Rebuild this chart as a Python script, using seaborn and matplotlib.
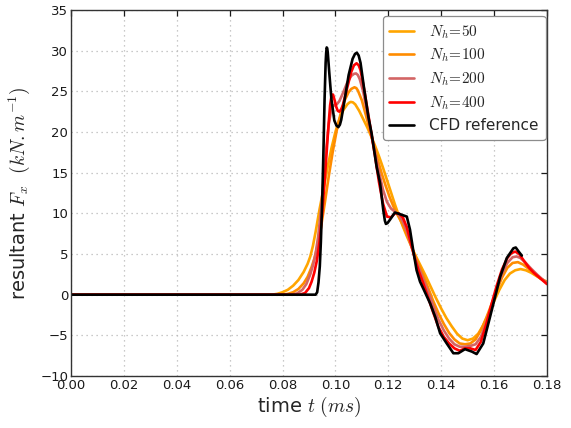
import matplotlib
matplotlib.use("Agg")
import matplotlib.pyplot as plt
import seaborn as sns
import pandas as pd

# ---- resultant force histories (time in ms, force in kN/m) ----
t_50 = [0, 0.076, 0.078, 0.080, 0.082, 0.084, 0.086, 0.088, 0.0895, 0.0905, 0.0915,
        0.0925, 0.094, 0.0955, 0.097, 0.0985, 0.100, 0.1015, 0.103, 0.1045, 0.1052,
        0.1058, 0.1066, 0.1075, 0.109, 0.1105, 0.112, 0.1135, 0.115, 0.1165, 0.118,
        0.1195, 0.121, 0.1225, 0.124, 0.1255, 0.127, 0.1285, 0.130, 0.132, 0.134,
        0.136, 0.138, 0.140, 0.142, 0.144, 0.146, 0.148, 0.150, 0.152, 0.154, 0.156,
        0.158, 0.160, 0.162, 0.164, 0.166, 0.168, 0.170, 0.172, 0.174, 0.176, 0.178,
        0.180]
f_50 = [0, 0, 0.1, 0.3, 0.6, 1.1, 1.8, 2.8, 3.8, 4.7, 6.0,
        7.7, 10.5, 13.0, 15.6, 18.0, 20.0, 21.6, 22.7, 23.4, 23.6,
        23.7, 23.65, 23.4, 22.6, 21.6, 20.6, 19.5, 18.3, 17.0, 15.6,
        14.1, 12.6, 11.1, 9.7, 8.4, 7.2, 6.1, 5.0, 3.7, 2.4,
        1.0, -0.4, -1.7, -2.9, -3.9, -4.8, -5.4, -5.6, -5.4, -4.8, -3.7,
        -2.3, -0.8, 0.6, 1.8, 2.6, 3.0, 3.15, 3.0, 2.7, 2.3, 1.9,
        1.6]

t_100 = [0, 0.080, 0.082, 0.084, 0.086, 0.088, 0.0895, 0.091, 0.092, 0.093, 0.0945,
         0.096, 0.0975, 0.099, 0.1005, 0.102, 0.1035, 0.105, 0.106, 0.1072, 0.1079,
         0.1085, 0.110, 0.1115, 0.113, 0.1145, 0.116, 0.1175, 0.119, 0.1205, 0.122,
         0.1235, 0.125, 0.1265, 0.128, 0.1295, 0.131, 0.133, 0.135, 0.137, 0.139,
         0.141, 0.143, 0.145, 0.147, 0.149, 0.151, 0.153, 0.155, 0.157, 0.159,
         0.161, 0.163, 0.165, 0.167, 0.169, 0.171, 0.173, 0.175, 0.1775, 0.180]
f_100 = [0, 0, 0.1, 0.3, 0.7, 1.4, 2.2, 3.4, 4.4, 5.7, 8.2,
         11.3, 14.6, 17.6, 20.2, 22.3, 23.9, 24.9, 25.3, 25.5, 25.4,
         25.1, 23.9, 22.1, 20.2, 18.4, 16.6, 14.9, 13.4, 12.0, 10.8,
         9.8, 8.9, 7.8, 6.6, 5.3, 4.1, 2.6, 0.9, -0.8, -2.3,
         -3.6, -4.7, -5.5, -6.0, -6.1, -6.0, -5.5, -4.4, -2.9, -1.2,
         0.5, 2.1, 3.3, 3.9, 4.0, 3.7, 3.2, 2.6, 2.0, 1.5]

t_200 = [0, 0.0835, 0.0855, 0.0875, 0.089, 0.0905, 0.0915, 0.0925, 0.0935, 0.0945,
         0.0955, 0.0965, 0.0975, 0.0985, 0.0995, 0.1005, 0.1015, 0.103, 0.1045, 0.106,
         0.107, 0.1078, 0.1085, 0.1092, 0.1105, 0.112, 0.1135, 0.115, 0.1165, 0.118,
         0.1195, 0.121, 0.1225, 0.124, 0.1255, 0.127, 0.1285, 0.130, 0.1315, 0.133,
         0.135, 0.137, 0.139, 0.141, 0.143, 0.145, 0.147, 0.149, 0.151, 0.153,
         0.155, 0.157, 0.159, 0.161, 0.163, 0.165, 0.167, 0.1685, 0.170, 0.172,
         0.174, 0.1765, 0.180]
f_200 = [0, 0, 0.15, 0.6, 1.3, 2.5, 3.6, 5.0, 7.2, 10.3,
         14.0, 17.8, 21.0, 22.9, 23.3, 23.4, 23.8, 24.9, 26.1, 26.9,
         27.15, 27.2, 27.0, 26.5, 25.0, 22.4, 19.9, 17.4, 15.0, 12.9,
         11.4, 10.6, 10.2, 9.8, 9.0, 7.8, 6.2, 4.6, 3.3, 2.1,
         0.4, -1.4, -3.1, -4.4, -5.4, -6.1, -6.4, -6.4, -6.3, -6.1,
         -5.2, -3.5, -1.4, 0.7, 2.6, 3.9, 4.6, 4.7, 4.5, 3.9,
         3.2, 2.4, 1.4]

t_400 = [0, 0.0865, 0.0885, 0.090, 0.091, 0.092, 0.093, 0.094, 0.095, 0.096, 0.097,
         0.0975, 0.098, 0.0986, 0.0991, 0.0997, 0.1003, 0.1009, 0.1015, 0.1022, 0.1028,
         0.1045, 0.106, 0.107, 0.108, 0.1088, 0.1095, 0.111, 0.1125, 0.1135, 0.115,
         0.1165, 0.118, 0.1195, 0.121, 0.1225, 0.124, 0.1255, 0.127, 0.1285, 0.130,
         0.1315, 0.133, 0.135, 0.137, 0.139, 0.141, 0.143, 0.145, 0.147, 0.149,
         0.151, 0.153, 0.155, 0.157, 0.159, 0.161, 0.163, 0.165, 0.1665, 0.168,
         0.1695, 0.171, 0.173, 0.175, 0.1775, 0.180]
f_400 = [0, 0, 0.2, 0.8, 1.6, 2.7, 4.2, 6.5, 10.0, 14.3, 19.0,
         21.3, 23.3, 24.6, 24.6, 23.9, 23.1, 22.6, 22.5, 22.8, 23.3,
         25.5, 27.4, 28.2, 28.45, 28.2, 27.6, 25.0, 22.0, 20.0, 17.0,
         13.8, 11.2, 9.6, 9.5, 10.0, 10.0, 9.5, 8.3, 6.4, 4.5,
         2.9, 1.6, -0.3, -2.2, -4.0, -5.2, -6.0, -6.6, -6.9, -6.6,
         -6.6, -6.8, -5.8, -3.7, -1.2, 1.1, 3.1, 4.5, 5.1, 5.3,
         5.0, 4.3, 3.4, 2.7, 2.0, 1.3]

t_cfd = [0, 0.0925, 0.0931, 0.0936, 0.0941, 0.0945, 0.0950, 0.0955, 0.0959, 0.0963,
         0.0965, 0.0967, 0.0969, 0.0971, 0.0977, 0.0985, 0.0996, 0.1004, 0.1011, 0.1017,
         0.1022, 0.1035, 0.105, 0.1065, 0.1074, 0.1081, 0.1088, 0.1095, 0.111, 0.1125,
         0.1137, 0.1156, 0.1169, 0.1181, 0.1187, 0.1191, 0.1197, 0.1206, 0.1225, 0.1244,
         0.127, 0.1282, 0.1295, 0.1307, 0.132, 0.1333, 0.1358, 0.1377, 0.1396, 0.1421,
         0.1446, 0.1465, 0.149, 0.1516, 0.1534, 0.1559, 0.1585, 0.1604, 0.1623, 0.1648,
         0.1673, 0.1682, 0.1693, 0.1705]
f_cfd = [0, 0, 0.3, 1.5, 3.5, 6.5, 11.5, 18.0, 24.0, 28.5,
         29.7, 30.4, 30.3, 29.8, 27.2, 24.0, 21.4, 20.8, 20.6, 20.9,
         21.5, 24.0, 27.0, 29.0, 29.6, 29.75, 29.4, 28.5, 25.0, 21.8,
         19.8, 15.7, 13.7, 10.4, 9.1, 8.7, 8.8, 9.2, 10.1, 9.9,
         9.6, 8.0, 5.3, 3.0, 1.6, 0.7, -1.06, -2.7, -4.75, -6.0,
         -7.2, -7.2, -6.7, -7.0, -7.3, -6.0, -2.7, -0.25, 2.2, 4.5,
         5.7, 5.8, 5.3, 4.8]

labels = [r"$N_h\!=\!50$", r"$N_h\!=\!100$", r"$N_h\!=\!200$", r"$N_h\!=\!400$",
          "CFD reference"]
colors = ["#ffa500", "#ff8c00", "#d36565", "#ff0000", "#000000"]

x_ticks = [0.00, 0.02, 0.04, 0.06, 0.08, 0.10, 0.12, 0.14, 0.16, 0.18]
y_ticks = [-10, -5, 0, 5, 10, 15, 20, 25, 30, 35]

series = [(t_50, f_50), (t_100, f_100), (t_200, f_200), (t_400, f_400), (t_cfd, f_cfd)]
frames = []
for lab, (tt, ff) in zip(labels, series):
    frames.append(pd.DataFrame({"t": tt, "F": ff, "case": lab}))
df = pd.concat(frames, ignore_index=True)

sns.set_style("white")
plt.rcParams["font.family"] = ["DejaVu Sans"]
plt.rcParams["mathtext.fontset"] = "cm"
plt.rcParams["axes.unicode_minus"] = True
plt.rcParams["lines.solid_joinstyle"] = "round"
plt.rcParams["lines.solid_capstyle"] = "round"

fig = plt.figure(figsize=(5.71, 4.28), dpi=100)
ax = fig.add_axes([0.1243, 0.1215, 0.8336, 0.8551])

sns.lineplot(data=df, x="t", y="F", hue="case", hue_order=labels,
             palette=dict(zip(labels, colors)), estimator=None, sort=False,
             linewidth=1.9, ax=ax, legend=False)

ax.set_xlim(0, 0.18)
ax.set_ylim(-10, 35)
ax.set_xticks(x_ticks)
ax.set_yticks(y_ticks)
ax.set_xticklabels([f"{v:.2f}" for v in x_ticks])
ax.set_yticklabels([f"{v:d}".replace("-", "\u2212") for v in y_ticks])

ax.grid(True, color="0.72", linestyle=(0, (1, 3)), linewidth=0.9)
for sp in ax.spines.values():
    sp.set_color("0.2")
    sp.set_linewidth(1.0)
ax.tick_params(direction="in", top=True, right=True, length=4.5, width=0.9,
               labelsize=9.5, pad=2, colors="0.1")

ax.set_xlabel(r"time $t\ (ms)$", fontsize=14, labelpad=2)
ax.set_ylabel(r"resultant $F_x\ \ (kN.m^{-1})$", fontsize=14, labelpad=6)

handles = ax.get_lines()[:len(labels)]
leg = ax.legend(handles, labels, loc="upper right", bbox_to_anchor=(0.997, 0.983),
                borderaxespad=0, fontsize=11, handlelength=1.6, handletextpad=1.0,
                labelspacing=0.4, frameon=True, fancybox=True, framealpha=1,
                edgecolor="0.55", borderpad=0.45)
leg.get_frame().set_linewidth(0.9)

fig.savefig("out.png", dpi=100)
